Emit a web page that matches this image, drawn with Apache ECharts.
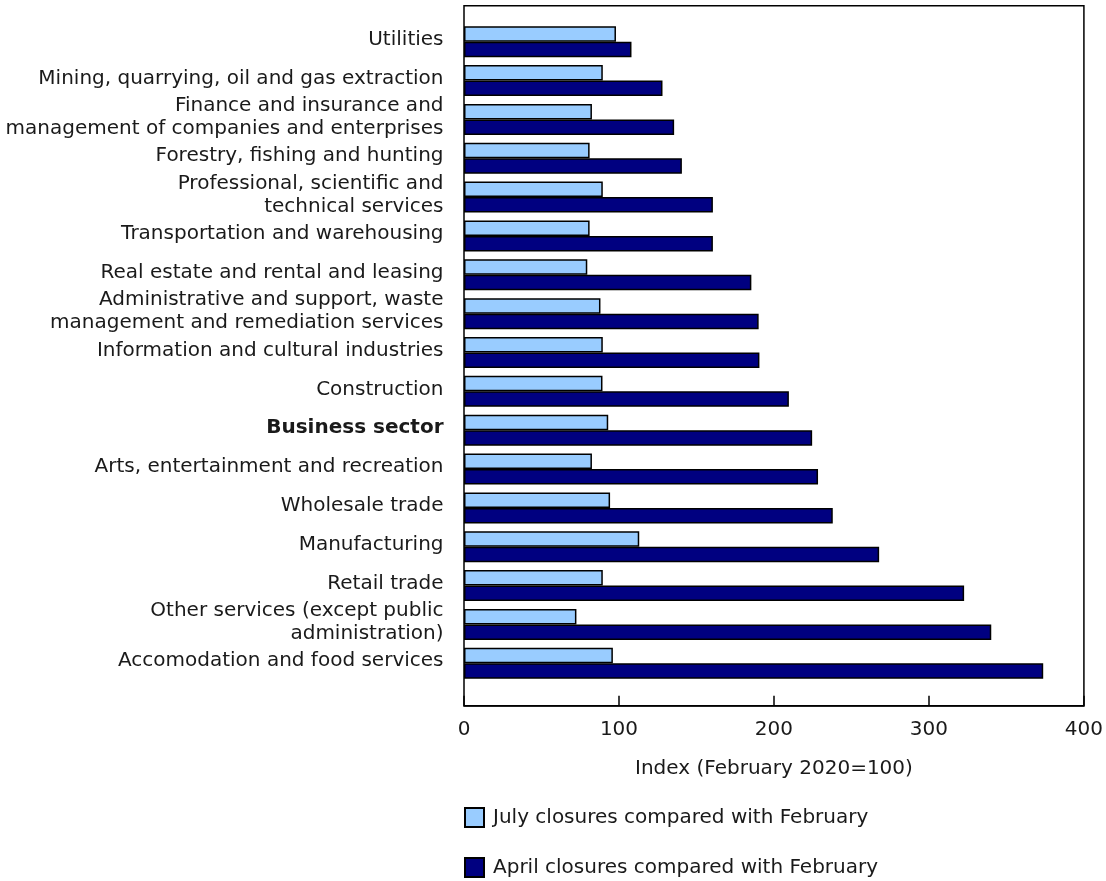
<!DOCTYPE html>
<html>
<head>
<meta charset="utf-8">
<title>Business closures index</title>
<script src="https://cdn.jsdelivr.net/npm/echarts@6/dist/echarts.min.js"></script>
<style>
  html, body { margin: 0; padding: 0; background: #fff; }
  #chart { width: 1106px; height: 881px; }
</style>
</head>
<body>
<div id="chart"></div>
<script>
// categories, top to bottom
const industries = [
  'Utilities',
  'Mining, quarrying, oil and gas extraction',
  'Finance and insurance and\nmanagement of companies and enterprises',
  'Forestry, fishing and hunting',
  'Professional, scientific and\ntechnical services',
  'Transportation and warehousing',
  'Real estate and rental and leasing',
  'Administrative and support, waste\nmanagement and remediation services',
  'Information and cultural industries',
  'Construction',
  'Business sector',
  'Arts, entertainment and recreation',
  'Wholesale trade',
  'Manufacturing',
  'Retail trade',
  'Other services (except public\nadministration)',
  'Accomodation and food services'
]
// July closures compared with February
const julyValues = [98, 89.5, 82.5, 81, 89.5, 81, 79.5, 88, 89.5, 89.3, 93, 82.5, 94.2, 113, 89.5, 72.5, 96]
// April closures compared with February
const aprilValues = [108, 128, 135.5, 140.5, 160.5, 160.5, 185.3, 190, 190.5, 209.5, 224.5, 228.3, 237.8, 267.7, 322.5, 340, 373.5]
const xTicks = [0, 100, 200, 300, 400]
const seriesNames = ['July closures compared with February', 'April closures compared with February']

const font = 'DejaVu Sans'
const textColor = '#1a1a1a'
const myChart = echarts.init(document.getElementById('chart'))

// one legend box per item, stacked under the axis title
const legendBox = (name, top) => ({
  left: 464,
  top: top,
  padding: 0,
  itemWidth: 19,
  itemHeight: 19,
  icon: 'rect',
  textStyle: { fontFamily: font, fontSize: 20, color: textColor, padding: [0, 0, 0, 4] },
  data: [name]
})

const option = {
  animation: false,
  textStyle: { fontFamily: font },
  grid: [
    // bars
    { left: 464, right: 21.7, top: 22.3, bottom: 198.3 },
    // frame round the plot
    {
      left: 464, right: 21.7, top: 5.7, bottom: 175.3,
      show: true, borderColor: '#000', borderWidth: 1.5
    }
  ],
  legend: [legendBox(seriesNames[0], 807), legendBox(seriesNames[1], 857)],
  xAxis: [
    {
      gridIndex: 0,
      type: 'value',
      min: xTicks[0],
      max: xTicks[xTicks.length - 1],
      show: false
    },
    {
      gridIndex: 1,
      type: 'value',
      min: xTicks[0],
      max: xTicks[xTicks.length - 1],
      interval: 100,
      name: 'Index (February 2020=100)',
      nameLocation: 'middle',
      nameGap: 53,
      nameTextStyle: { fontFamily: font, fontSize: 20, color: textColor },
      axisLine: { lineStyle: { color: '#000', width: 1.5 } },
      axisTick: { inside: true, length: 10, lineStyle: { color: '#000', width: 1.5 } },
      axisLabel: { fontFamily: font, fontSize: 20, color: textColor, margin: 14 },
      splitLine: { show: false }
    }
  ],
  yAxis: [
    {
      gridIndex: 0,
      type: 'category',
      inverse: true,
      data: industries,
      axisLine: { show: false },
      axisTick: { show: false },
      axisLabel: {
        fontFamily: font,
        fontSize: 20,
        lineHeight: 23,
        color: textColor,
        margin: 20.5,
        padding: [0, 0, 4, 0],
        formatter: name => (name === 'Business sector' ? '{b|' + name + '}' : name),
        rich: {
          b: { fontFamily: font, fontSize: 20, fontWeight: 'bold', color: textColor }
        }
      }
    },
    {
      gridIndex: 1,
      type: 'value',
      show: false
    }
  ],
  series: [
    {
      name: seriesNames[0],
      type: 'bar',
      xAxisIndex: 0,
      yAxisIndex: 0,
      barWidth: 15.5,
      barGap: '0%',
      data: julyValues,
      itemStyle: { color: '#99ccff', borderColor: '#000', borderWidth: 1.5 }
    },
    {
      name: seriesNames[1],
      type: 'bar',
      xAxisIndex: 0,
      yAxisIndex: 0,
      barWidth: 15.5,
      barGap: '0%',
      data: aprilValues,
      itemStyle: { color: '#000080', borderColor: '#000', borderWidth: 1.5 }
    }
  ]
}

myChart.setOption(option)
</script>
</body>
</html>
